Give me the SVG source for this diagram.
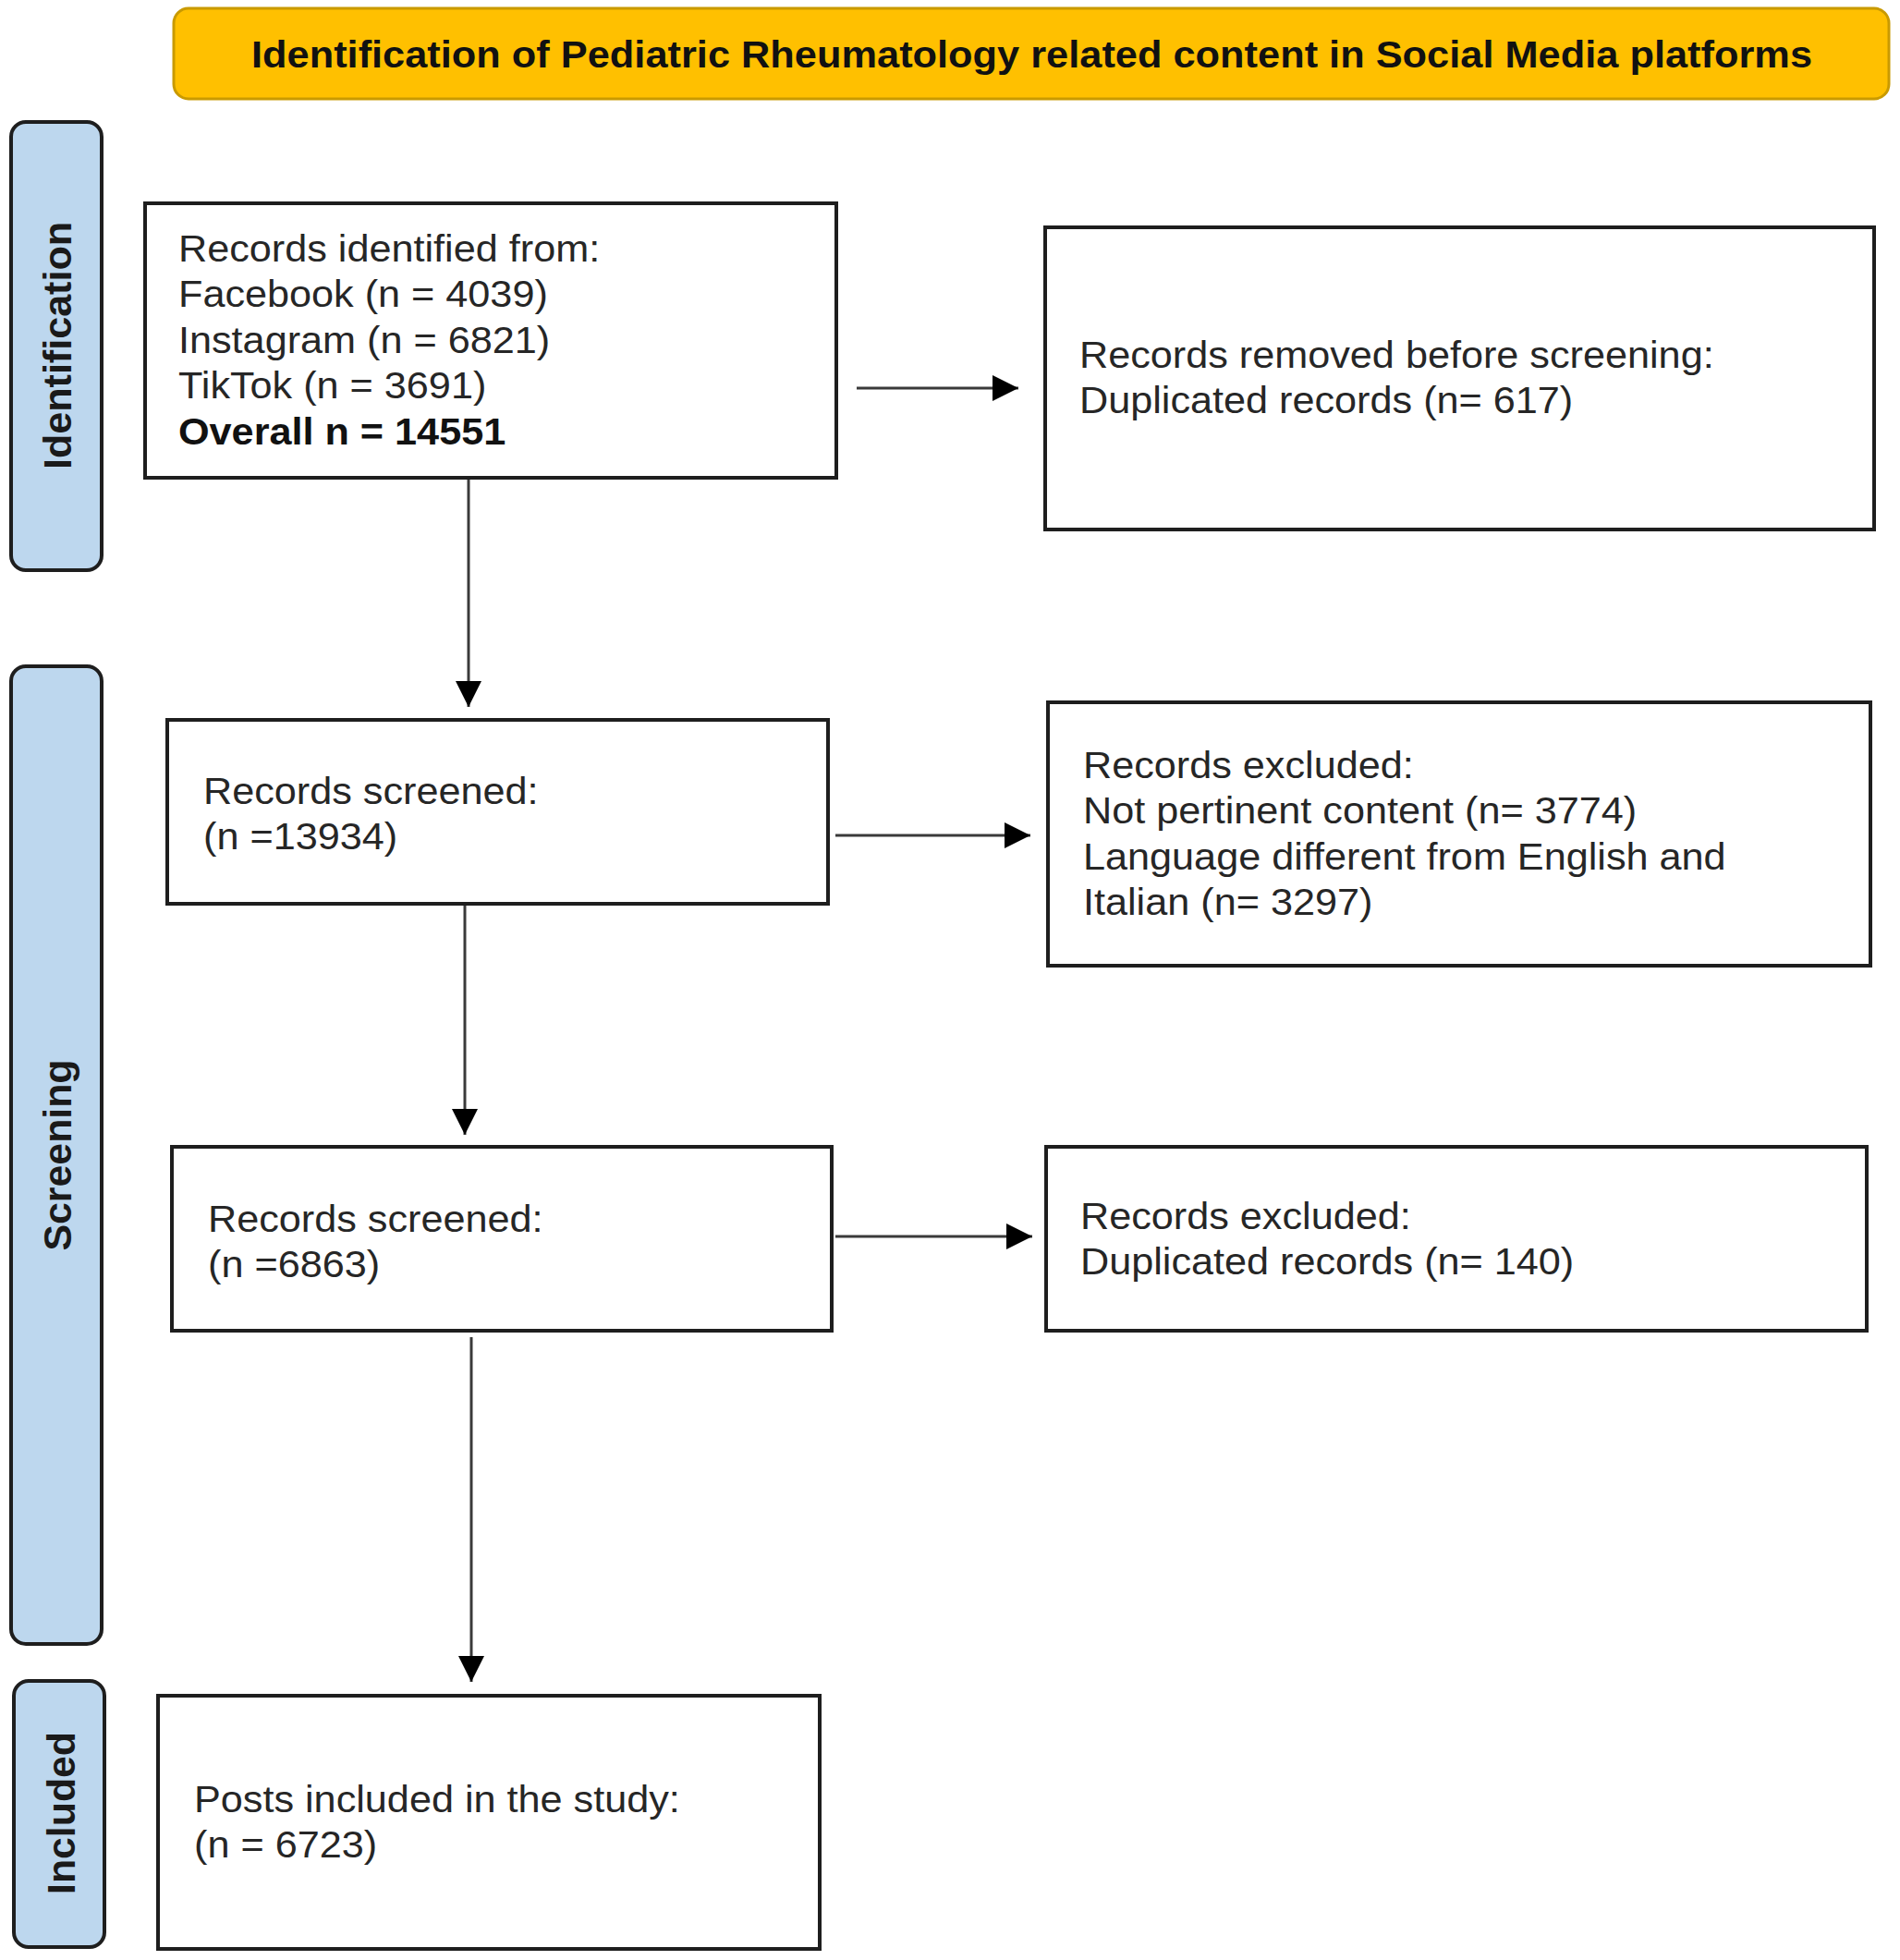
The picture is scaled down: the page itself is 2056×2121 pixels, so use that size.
<svg xmlns="http://www.w3.org/2000/svg" width="2056" height="2121" viewBox="0 0 2056 2121">
<style>
.box{fill:#ffffff;stroke:#1e1e1e;stroke-width:4}
.side{fill:#bdd7ee;stroke:#1e1e1e;stroke-width:4}
.banner{fill:#ffc000;stroke:#c99a00;stroke-width:3}
.t{font-family:"Liberation Sans",Arial,sans-serif;font-size:40px;fill:#262626}
.b{font-weight:bold;fill:#111111}
.lab{font-family:"Liberation Sans",Arial,sans-serif;font-size:43px;font-weight:bold;fill:#1a1a1a;text-anchor:middle}
.title{font-family:"Liberation Sans",Arial,sans-serif;font-size:40px;font-weight:bold;fill:#111111}
.conn{stroke:#3a3a3a;stroke-width:3;fill:none;marker-end:url(#ah)}
</style>
<defs>
<marker id="ah" markerUnits="userSpaceOnUse" markerWidth="28" markerHeight="28" refX="28" refY="14" orient="auto">
<path d="M0,0 L28,14 L0,28 z" fill="#000000"/>
</marker>
</defs>
<rect width="2056" height="2121" fill="#ffffff"/>
<g id="banner">
<rect class="banner" x="188" y="9" width="1856" height="98" rx="16"/>
<text class="title" x="272" y="73" textLength="1689" lengthAdjust="spacingAndGlyphs">Identification of Pediatric Rheumatology related content in Social Media platforms</text>
</g>
<g id="stage-identification">
<rect class="side" x="12" y="132" width="98" height="485" rx="16"/>
<text class="lab" transform="translate(77,374) rotate(-90)" textLength="268" lengthAdjust="spacingAndGlyphs">Identification</text>
</g>
<g id="stage-screening">
<rect class="side" x="12" y="721" width="98" height="1058" rx="16"/>
<text class="lab" transform="translate(77,1250) rotate(-90)" textLength="207" lengthAdjust="spacingAndGlyphs">Screening</text>
</g>
<g id="stage-included">
<rect class="side" x="15" y="1819" width="98" height="288" rx="16"/>
<text class="lab" transform="translate(81,1962) rotate(-90)" textLength="176" lengthAdjust="spacingAndGlyphs">Included</text>
</g>
<g id="records-identified">
<rect class="box" x="157" y="220" width="748" height="297"/>
<text class="t" transform="translate(193,283) scale(1.08,1)"><tspan x="0" y="0">Records identified from:</tspan><tspan x="0" y="49.5">Facebook (n = 4039)</tspan><tspan x="0" y="99">Instagram (n = 6821)</tspan><tspan x="0" y="148.5">TikTok (n = 3691)</tspan><tspan x="0" y="198" class="b">Overall n = 14551</tspan></text>
</g>
<g id="records-removed">
<rect class="box" x="1131" y="246" width="897" height="327"/>
<text class="t" transform="translate(1168,398) scale(1.08,1)"><tspan x="0" y="0">Records removed before screening:</tspan><tspan x="0" y="49.5">Duplicated records (n= 617)</tspan></text>
</g>
<g id="records-screened-1">
<rect class="box" x="181" y="779" width="715" height="199"/>
<text class="t" transform="translate(220,870) scale(1.08,1)"><tspan x="0" y="0">Records screened:</tspan><tspan x="0" y="49.5">(n =13934)</tspan></text>
</g>
<g id="records-excluded-1">
<rect class="box" x="1134" y="760" width="890" height="285"/>
<text class="t" transform="translate(1172,842) scale(1.08,1)"><tspan x="0" y="0">Records excluded:</tspan><tspan x="0" y="49.5">Not pertinent content (n= 3774)</tspan><tspan x="0" y="99">Language different from English and</tspan><tspan x="0" y="148.5">Italian (n= 3297)</tspan></text>
</g>
<g id="records-screened-2">
<rect class="box" x="186" y="1241" width="714" height="199"/>
<text class="t" transform="translate(225,1333) scale(1.08,1)"><tspan x="0" y="0">Records screened:</tspan><tspan x="0" y="49.5">(n =6863)</tspan></text>
</g>
<g id="records-excluded-2">
<rect class="box" x="1132" y="1241" width="888" height="199"/>
<text class="t" transform="translate(1169,1330) scale(1.08,1)"><tspan x="0" y="0">Records excluded:</tspan><tspan x="0" y="49.5">Duplicated records (n= 140)</tspan></text>
</g>
<g id="posts-included">
<rect class="box" x="171" y="1835" width="716" height="274"/>
<text class="t" transform="translate(210,1961) scale(1.08,1)"><tspan x="0" y="0">Posts included in the study:</tspan><tspan x="0" y="49.5">(n = 6723)</tspan></text>
</g>
<g id="connectors">
<line class="conn" x1="927" y1="420" x2="1102" y2="420"/>
<line class="conn" x1="507" y1="519" x2="507" y2="765"/>
<line class="conn" x1="904" y1="904" x2="1115" y2="904"/>
<line class="conn" x1="503" y1="980" x2="503" y2="1228"/>
<line class="conn" x1="904" y1="1338" x2="1117" y2="1338"/>
<line class="conn" x1="510" y1="1447" x2="510" y2="1820"/>
</g>
</svg>
